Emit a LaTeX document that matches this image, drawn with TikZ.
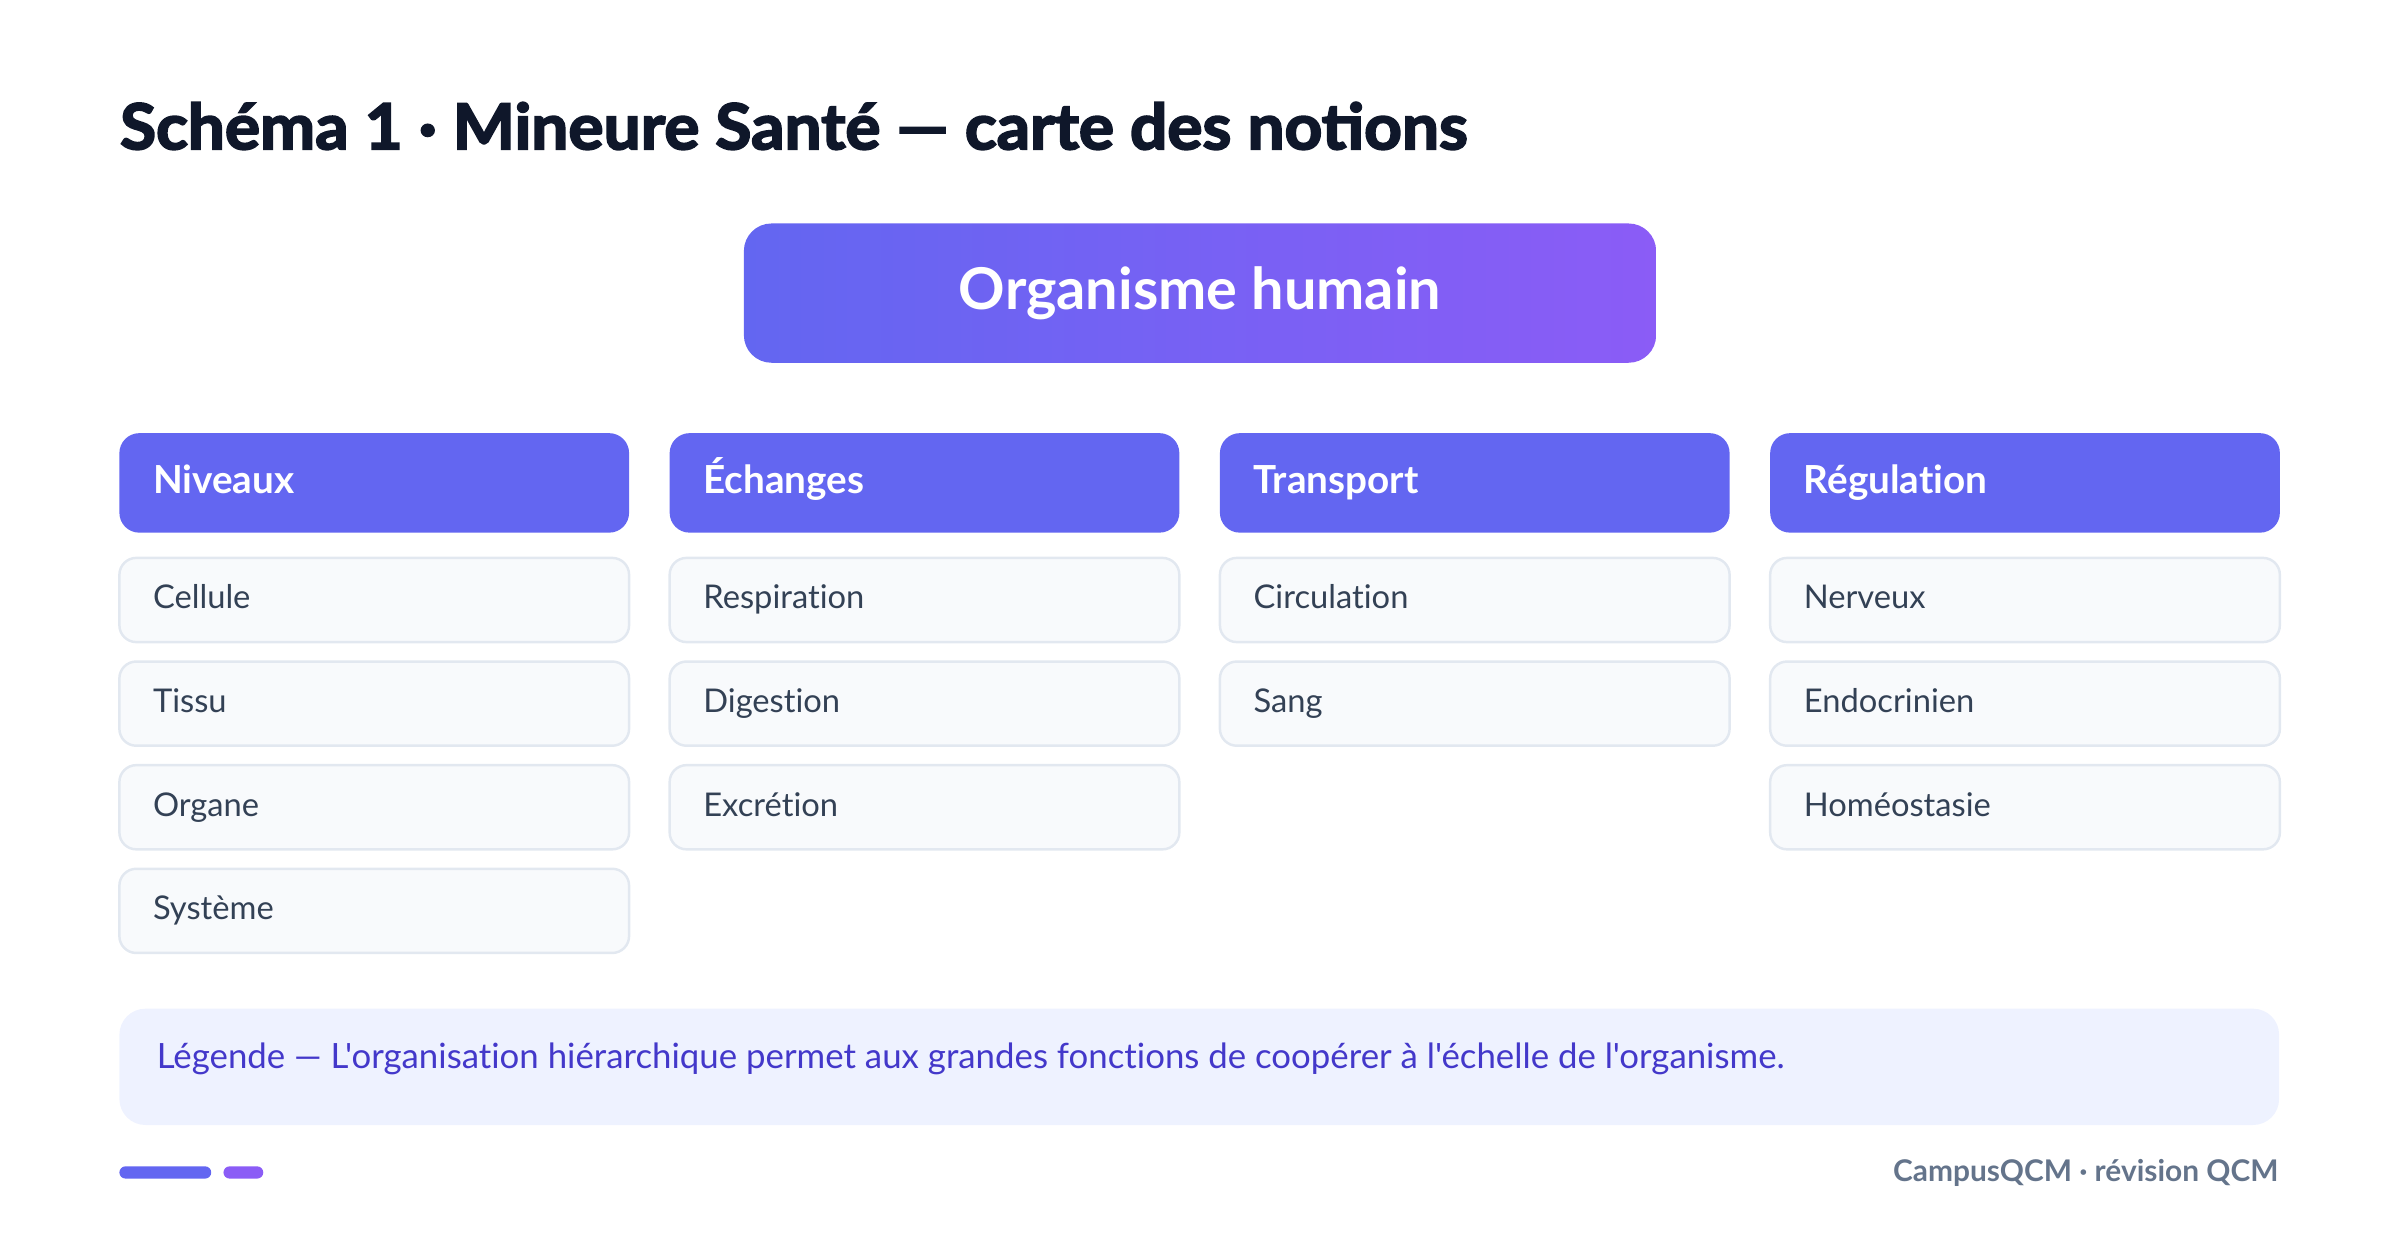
\documentclass[tikz,border=0pt]{standalone}
\usepackage{fontspec}
\setmainfont{Lato}[Ligatures=CommonOff]
\newfontfamily\heavyfont{Lato}[FakeBold=3, FakeStretch=1.04]
\font\legfont="Lato:-liga" at 9.9pt
\usetikzlibrary{positioning}
\definecolor{ink}{HTML}{0F172A}
\definecolor{indigo}{HTML}{6366F1}
\definecolor{violet}{HTML}{8B5CF6}
\definecolor{cardfill}{HTML}{F8FAFC}
\definecolor{cardline}{HTML}{E2E8F0}
\definecolor{cardtext}{HTML}{334155}
\definecolor{notefill}{HTML}{EEF2FF}
\definecolor{notetext}{HTML}{4338CA}
\definecolor{foot}{HTML}{64748B}
\def\px{0.015306cm}
\tikzset{
  root/.style={rectangle, rounded corners=18*\px, left color=indigo, right color=violet,
    minimum width=596*\px, minimum height=91*\px, inner sep=0pt,
    text=white, font=\bfseries\fontsize{16.4}{19}\selectfont},
  head/.style={rectangle, rounded corners=13*\px, fill=indigo, text=white,
    minimum width=333*\px, minimum height=65*\px, text width=289*\px, inner xsep=22*\px,
    align=left, text height=0.8em, text depth=0.2em, font=\bfseries\fontsize{11}{13}\selectfont},
  card/.style={rectangle, rounded corners=11*\px, fill=cardfill, draw=cardline, line width=0.7pt,
    minimum width=333*\px, minimum height=55*\px, text width=289*\px, inner xsep=22*\px,
    align=left, text height=0.75em, text depth=0.25em, text=cardtext, font=\fontsize{9.3}{11}\selectfont},
  pill/.style={rectangle, rounded corners=4*\px, minimum height=8*\px, inner sep=0pt}
}
\begin{document}
\begin{tikzpicture}[x=\px, y=-\px]
  \useasboundingbox (0,0) rectangle (1568,805.6);

  \node[anchor=base west, inner sep=0pt, text=ink, font=\heavyfont\bfseries\fontsize{18}{21}\selectfont]
    (title) at (78,97.5) {Schéma 1 · Mineure Santé — carte des notions};

  \node[root] (top) at (784,191.5) {Organisme humain};

  % columns: header then cards
  \foreach \c/\head/\items in {0/Niveaux/{Cellule,Tissu,Organe,Système},
                               1/Échanges/{Respiration,Digestion,Excrétion},
                               2/Transport/{Circulation,Sang},
                               3/Régulation/{Nerveux,Endocrinien,Homéostasie}}{
    \node[head] (head\c) at (244.5+359.5*\c,315.5) {\head};
    \foreach \it [count=\r] in \items{
      \node[card] (item\c-\r) at (244.5+359.5*\c,392+67.7*\r-67.7) {\it};
    };
  };

  \node[rectangle, rounded corners=17*\px, fill=notefill, minimum width=1411*\px,
    minimum height=76*\px, inner sep=0pt] (legend) at (783.5,697) {};
  \node[anchor=base west, inner sep=0pt, text=notetext, font=\legfont]
    (legendtext) at (102,698) {Légende — L'organisation hiérarchique permet aux grandes fonctions de coopérer à l'échelle de l'organisme.};

  \node[pill, fill=indigo, minimum width=60*\px] (pill1) at (108,766) {};
  \node[pill, fill=violet, minimum width=26*\px] (pill2) at (159,766) {};

  \node[anchor=base east, inner sep=0pt, text=foot, font=\bfseries\fontsize{8.5}{10}\selectfont]
    (credit) at (1489,772) {CampusQCM · révision QCM};
\end{tikzpicture}
\end{document}
